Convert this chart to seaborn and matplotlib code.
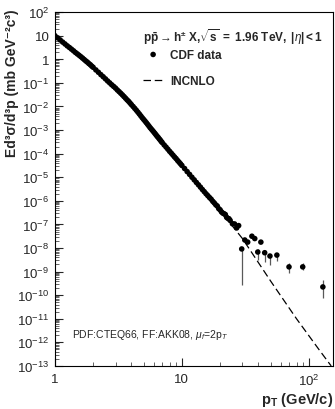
import numpy as np
import matplotlib.pyplot as plt
import seaborn as sns
from matplotlib.ticker import FixedLocator, LogLocator, NullFormatter

# Plot Styling
sns.set_style('ticks')
plt.rcParams['font.family'] = ['Liberation Sans', 'DejaVu Sans']
plt.rcParams['mathtext.fontset'] = 'custom'
plt.rcParams['mathtext.rm'] = 'Liberation Sans'
plt.rcParams['mathtext.it'] = 'Liberation Sans:italic'
plt.rcParams['mathtext.bf'] = 'Liberation Sans:bold'
plt.rcParams['axes.facecolor'] = 'w'

# CDF data, pT in GeV/c and log10 of the invariant cross section
cdf_pt = [1.00, 1.05, 1.10, 1.15, 1.20, 1.25, 1.30, 1.35, 1.40, 1.45, 1.50,
          1.55, 1.60, 1.65, 1.70, 1.75, 1.80, 1.85, 1.90, 1.95, 2.00,
          2.1, 2.2, 2.3, 2.4, 2.5, 2.6, 2.7, 2.8, 2.9, 3.0, 3.1, 3.2, 3.3,
          3.4, 3.5, 3.6, 3.7, 3.8, 3.9, 4.0,
          4.125, 4.25, 4.375, 4.5, 4.625, 4.75, 4.875, 5.0, 5.125, 5.25,
          5.375, 5.5, 5.625, 5.75, 5.875, 6.0, 6.125, 6.25, 6.375, 6.5,
          6.625, 6.75, 6.875, 7.0, 7.25, 7.5, 7.75, 8.0, 8.25, 8.5, 8.75,
          9.0, 9.25, 9.5, 9.75, 10.0,
          10.5, 11.0, 11.5, 12.0, 12.5, 13.0, 13.5, 14.0, 14.5, 15.0, 15.5,
          16.0, 16.5, 17.0, 17.5, 18.0, 18.5, 19.0, 19.5, 20.0,
          20.5, 21, 21.5, 22, 22.5, 23, 23.5, 24, 25, 26, 27, 28,
          29.6, 31.3, 33.0, 35.6, 37.5, 39.6, 41.9, 44.9, 49.4, 56.0,
          69.8, 89.5, 129.0]
cdf_log10 = [1.00, 0.91, 0.82, 0.73, 0.65, 0.57, 0.50, 0.43, 0.36, 0.29, 0.23,
             0.17, 0.11, 0.05, -0.01, -0.07, -0.12, -0.18, -0.23, -0.29, -0.34,
             -0.45, -0.55, -0.65, -0.74, -0.83, -0.92, -1.00, -1.08, -1.15,
             -1.22, -1.30, -1.37, -1.44, -1.51, -1.58, -1.65, -1.72, -1.78,
             -1.85, -1.92,
             -2.00, -2.08, -2.16, -2.24, -2.32, -2.40, -2.48, -2.55, -2.62,
             -2.69, -2.76, -2.83, -2.90, -2.96, -3.02, -3.08, -3.14, -3.20,
             -3.26, -3.31, -3.37, -3.42, -3.48, -3.53, -3.63, -3.72, -3.81,
             -3.90, -3.98, -4.06, -4.14, -4.21, -4.29, -4.36, -4.43, -4.50,
             -4.63, -4.76, -4.88, -5.00, -5.11, -5.22, -5.32, -5.42, -5.52,
             -5.61, -5.70, -5.78, -5.86, -5.93, -6.02, -6.09, -6.17, -6.22,
             -6.33, -6.38,
             -6.47, -6.52, -6.55, -6.58, -6.70, -6.74, -6.76, -6.83, -6.97,
             -6.98, -7.15, -7.05,
             -8.04, -7.66, -7.75, -7.50, -7.60, -8.17, -7.75, -8.20, -8.34,
             -8.30, -8.80, -8.80, -9.65]

# error bars on the high-pT points (log10 of lower / upper ends)
err_pt = [29.6, 39.6, 44.9, 49.4, 56.0, 69.8, 89.5, 129.0]
err_lo = [-9.55, -8.50, -8.60, -8.70, -8.55, -9.05, -8.95, -10.10]
err_hi = [-7.95, -8.05, -8.10, -8.25, -8.20, -8.65, -8.65, -9.35]

# INCNLO prediction
nlo_pt = [1, 1.5, 2, 3, 4, 5, 7, 10, 15, 20, 30, 50, 80, 120, 150]
nlo_log10 = [1.0, 0.23, -0.35, -1.22, -1.93, -2.56, -3.55, -4.52, -5.63,
             -6.42, -7.6, -9.4, -11.0, -12.3, -13.0]

ytick_vals = [1e2, 1e1, 1, 1e-1, 1e-2, 1e-3, 1e-4, 1e-5, 1e-6, 1e-7,
              1e-8, 1e-9, 1e-10, 1e-11, 1e-12, 1e-13]
ytick_labels = [r'$10^{2}$', '10', '1', r'$10^{-1}$', r'$10^{-2}$',
                r'$10^{-3}$', r'$10^{-4}$', r'$10^{-5}$', r'$10^{-6}$',
                r'$10^{-7}$', r'$10^{-8}$', r'$10^{-9}$', r'$10^{-10}$',
                r'$10^{-11}$', r'$10^{-12}$', r'$10^{-13}$']
xtick_vals = [1, 10, 100]
xtick_labels = ['1', '10', r'$10^{2}$']


fig = plt.figure(figsize=(3.35, 4.10), dpi=100)
ax = fig.add_axes([0.164, 0.105, 0.830, 0.863])

sns.lineplot(x=nlo_pt, y=10**np.array(nlo_log10), ax=ax, color='k', lw=0.9,
             label='INCNLO', zorder=2)
ax.lines[-1].set_dashes([6, 3])
ax.vlines(err_pt, 10**np.array(err_lo), 10**np.array(err_hi),
          color='0.35', lw=0.9, zorder=2)
sns.scatterplot(x=cdf_pt, y=10**np.array(cdf_log10), ax=ax, color='k', s=34,
                edgecolor='none', label='CDF data', zorder=3)

ax.set_xscale('log')
ax.set_yscale('log')
ax.set_xlim(1, 155)
ax.set_ylim(1e-13, 1e2)

ax.yaxis.set_major_locator(FixedLocator(ytick_vals))
ax.set_yticklabels(ytick_labels)
ax.yaxis.set_minor_locator(LogLocator(base=10, subs=np.arange(2, 10), numticks=100))
ax.yaxis.set_minor_formatter(NullFormatter())
ax.xaxis.set_major_locator(FixedLocator(xtick_vals))
ax.set_xticklabels(xtick_labels)
ax.xaxis.set_minor_locator(LogLocator(base=10, subs=np.arange(2, 10), numticks=100))
ax.xaxis.set_minor_formatter(NullFormatter())

ax.tick_params(which='both', direction='in', labelsize=9.5, top=False, right=False)
ax.tick_params(axis='y', which='major', length=6, width=0.8, pad=4)
ax.tick_params(axis='y', which='minor', length=3, width=0.5)
ax.tick_params(axis='x', which='major', length=6, width=0.8, pad=5)
ax.tick_params(axis='x', which='minor', length=3, width=0.5)
for sp in ax.spines.values():
    sp.set_linewidth(0.8)
    sp.set_color('k')

ax.set_ylabel('Ed³σ/d³p (mb GeV⁻²c³)', fontsize=10, fontweight='bold', loc='top')
ax.yaxis.set_label_coords(-0.13, 1.01)
ax.set_xlabel(r'p$_{\mathbf{T}}$ (GeV/c)', fontsize=10.5, fontweight='bold', loc='right')
ax.xaxis.set_label_coords(1.0, -0.068)

ax.text(0.317, 0.932,
        r'$\mathbf{p\bar{p}\rightarrow h^{\pm}}\ \mathit{\mathbf{X}}\mathbf{,}\sqrt{\mathbf{s}}\mathbf{\ =\ 1.96\ TeV,\ |}\eta\mathbf{|<1}$',
        transform=ax.transAxes, fontsize=8.5, va='center', ha='left')
ax.text(0.061, 0.09, r'PDF:CTEQ66, FF:AKK08, $\mu_{f}$=2p$_{T}$',
        transform=ax.transAxes, fontsize=7.5, va='center', ha='left')

handles, labels = ax.get_legend_handles_labels()
order = [labels.index('CDF data'), labels.index('INCNLO')]
for h in handles:
    if hasattr(h, 'set_sizes'):
        h.set_sizes([16])
leg = ax.legend([handles[i] for i in order], [labels[i] for i in order],
                loc='upper left', bbox_to_anchor=(0.317, 0.897), frameon=False,
                borderpad=0, borderaxespad=0, handlelength=1.7,
                handletextpad=0.6, labelspacing=1.2,
                prop={'weight': 'bold', 'size': 8.5})

fig.savefig('out.png', dpi=100)
